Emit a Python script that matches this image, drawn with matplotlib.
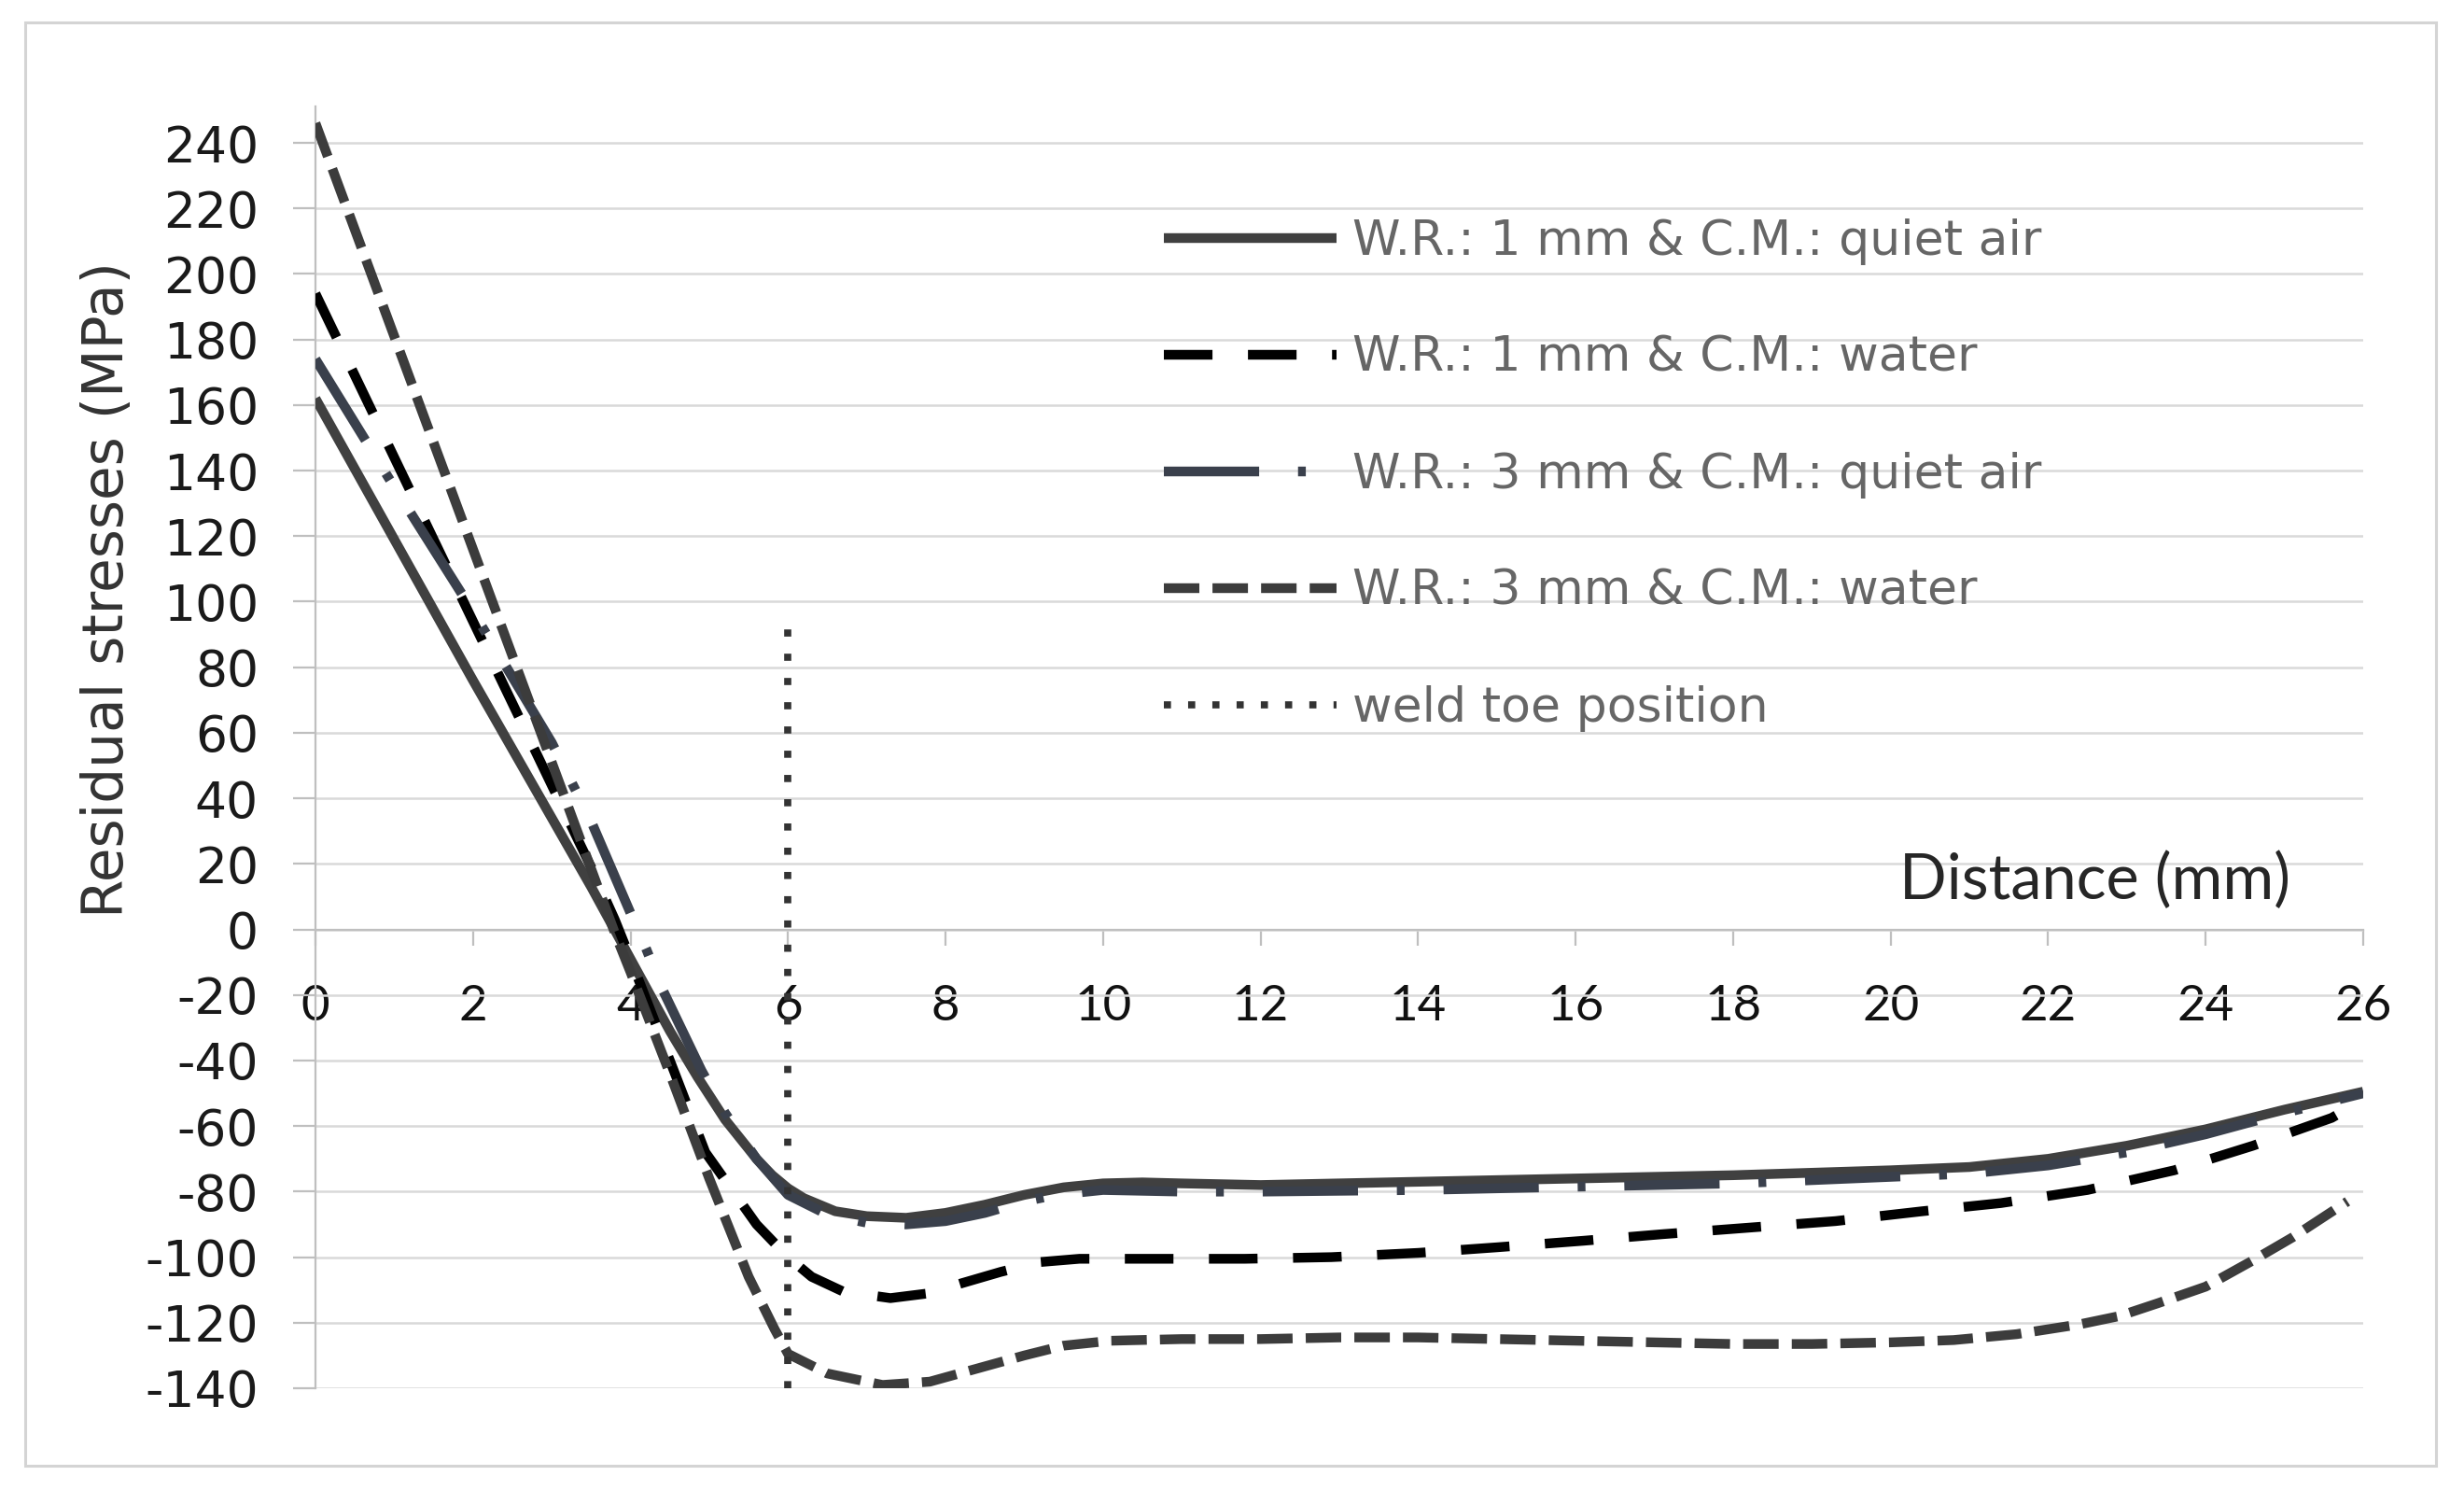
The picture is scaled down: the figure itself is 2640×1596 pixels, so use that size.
import matplotlib
matplotlib.use('Agg')
import matplotlib.pyplot as plt
from matplotlib.patches import Rectangle

# ---------------- data ----------------
x_wr1_air = [0, 1, 2, 3, 3.5, 4, 4.5, 4.85, 5.2, 5.6, 5.8, 6, 6.2, 6.6, 7, 7.5, 8, 8.5, 9, 9.5,
             10, 10.5, 11, 12, 14, 16, 18, 20, 21, 22, 23, 24, 25, 26]
y_wr1_air = [162, 119, 76, 34, 13, -9, -31, -45, -58, -70, -75, -79, -82, -86, -87.5, -88,
             -86.5, -84, -81, -78.7, -77.5, -77.2, -77.5, -78, -77, -76, -75, -73.5, -72.5, -70,
             -66, -61, -55, -49.5]

x_wr1_water = [0, 1, 2, 3, 3.5, 3.8, 4, 4.5, 4.95, 5.6, 6, 6.3, 6.7, 7.3, 7.8, 8.2, 8.7, 9.2,
               9.7, 10.3, 11.8, 12.9, 14, 15, 16.1, 17.1, 18.2, 19.3, 20.4, 21.4, 22.5, 23.6,
               24.6, 25.6, 26]
y_wr1_water = [194, 144, 94, 44, 19, 3, -9, -40, -68, -90, -100, -106, -110.5, -112.5, -111,
               -108, -104.5, -101.5, -100.5, -100.5, -100.5, -100, -98.7, -97, -95, -93, -91,
               -89, -86, -83.5, -79.5, -73.5, -66, -57.5, -52]

x_wr3_air = [0, 1, 2, 3, 3.5, 4, 4.2, 4.4, 4.9, 5.2, 5.6, 6, 6.5, 7, 7.5, 8, 8.5, 9, 9.4, 10,
             11, 12, 14, 16, 18, 20, 21, 22, 23, 24, 25, 26]
y_wr3_air = [174, 135, 97, 57, 33, 5, -6, -18, -43, -56, -70, -81, -87, -89.5, -90, -89, -86.5,
             -83, -81, -79.5, -80, -80, -79.5, -78.5, -77.5, -75.5, -74.5, -72, -68, -62.5,
             -56, -50]

x_wr3_water = [0, 1, 2, 3, 3.5, 3.8, 4, 4.5, 5, 5.5, 5.83, 6, 6.5, 7.2, 7.8, 8.4, 9, 9.5, 10.1,
               11, 12, 13, 14, 15, 16, 17, 18, 19, 20, 20.8, 21.6, 22.4, 22.9, 23.4, 24, 24.6,
               25.1, 25.8]
y_wr3_water = [246, 181, 116, 51, 18.5, -1, -13, -44, -76, -106, -122, -129.5, -135.5, -139,
               -138, -134, -130, -127, -125.5, -125, -125, -124.5, -124.5, -125, -125.5, -126,
               -126.5, -126.5, -126, -125.3, -123.5, -120.5, -118, -114, -109, -101, -94, -83]

x_weld_toe = [6, 6]
y_weld_toe = [-140, 92]

series_labels = ["W.R.: 1 mm & C.M.: quiet air",
                 "W.R.: 1 mm & C.M.: water",
                 "W.R.: 3 mm & C.M.: quiet air",
                 "W.R.: 3 mm & C.M.: water",
                 "weld toe position"]

x_ticks = list(range(0, 27, 2))
y_ticks = list(range(-140, 241, 20))
x_label = "Distance (mm)"
y_label = "Residual stresses (MPa)"

# ---------------- figure ----------------
W, H = 2640, 1596
fig = plt.figure(figsize=(W / 100, H / 100), dpi=100)
fig.patch.set_facecolor('white')

# outer border
fig.patches.append(Rectangle((27 / W, 1 - 1570 / H), (2610 - 27) / W, (1570 - 24) / H,
                             transform=fig.transFigure, fill=False,
                             edgecolor='#d4d4d4', linewidth=2.2))

x0, x1 = 338, 2532
ytop, ybot = 114.4, 1487
ax = fig.add_axes([x0 / W, 1 - ybot / H, (x1 - x0) / W, (ybot - ytop) / H])
ax.set_xlim(0, 26)
ax.set_ylim(-140, 251)

grid_c = '#d9d9d9'
axis_c = '#bfbfbf'
for s in ['top', 'right']:
    ax.spines[s].set_visible(False)
ax.spines['left'].set_color(axis_c)
ax.spines['left'].set_linewidth(1.6)
ax.spines['bottom'].set_position(('data', 0))
ax.spines['bottom'].set_color(axis_c)
ax.spines['bottom'].set_linewidth(1.6)

ax.set_yticks(y_ticks)
ax.set_yticklabels([str(v) for v in y_ticks])
ax.set_xticks(x_ticks)
ax.set_xticklabels([str(v) for v in x_ticks])
ax.yaxis.grid(True, color=grid_c, linewidth=1.8)
ax.set_axisbelow(True)

ax.tick_params(axis='y', direction='out', length=17, width=1.6, color=axis_c, pad=27,
               labelsize=38.5, labelcolor='#1a1a1a')
for t in ax.get_yticklabels():
    t.set_fontfamily('DejaVu Sans')
ax.tick_params(axis='x', direction='out', length=12, width=1.6, color=axis_c, pad=31,
               labelsize=38, labelcolor='#111111')
for t in ax.get_xticklabels():
    t.set_fontfamily('Lato')

lw = 7.5
l1, = ax.plot(x_wr1_air, y_wr1_air, color='#404040', lw=lw, solid_capstyle='butt', zorder=3)
l2, = ax.plot(x_wr1_water, y_wr1_water, color='#000000', lw=lw, dashes=(5.0, 3.65), zorder=3)
l3, = ax.plot(x_wr3_air, y_wr3_air, color='#3a404c', lw=lw, dashes=(9.8, 4.0, 0.8, 4.0), zorder=3)
l4, = ax.plot(x_wr3_water, y_wr3_water, color='#3c3c3c', lw=lw, dashes=(3.65, 1.35), zorder=3)
l5, = ax.plot(x_weld_toe, y_weld_toe, color='#333333', lw=5.5, dashes=(1, 2.4), zorder=3)

leg = ax.legend([l1, l2, l3, l4, l5], series_labels, loc='upper left',
                bbox_to_anchor=(1247 / W, 1 - 234 / H), bbox_transform=fig.transFigure,
                frameon=False, borderpad=0, borderaxespad=0, handlelength=3.55,
                handletextpad=0.32, labelspacing=1.44,
                prop={'family': 'DejaVu Sans', 'size': 37.5})
for t in leg.get_texts():
    t.set_color('#666666')

fig.text(2454 / W, 1 - 963 / H, x_label, ha='right', va='baseline', fontsize=48,
         family='Lato', color='#262626')
fig.text(115 / W, 1 - 632 / H, y_label, rotation=90, ha='center', va='center',
         fontsize=43, family='DejaVu Sans', color='#333333')

fig.savefig('out.png', dpi=100)
